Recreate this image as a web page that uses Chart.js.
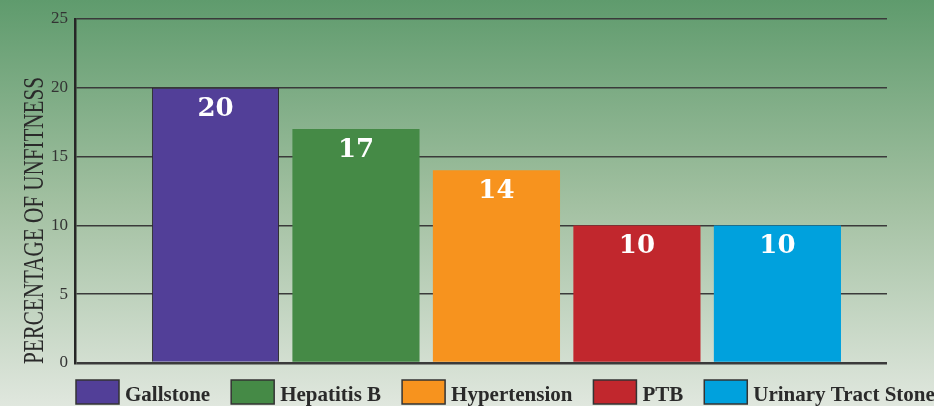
<!DOCTYPE html>
<html>
<head>
<meta charset="utf-8">
<script src="https://cdn.jsdelivr.net/npm/chart.js"></script>
<style>
  html, body { margin: 0; padding: 0; }
  #wrap { width: 934px; height: 406px; }
</style>
</head>
<body>
<div id="wrap"><canvas id="chart" width="934" height="406"></canvas></div>
<script>
// chart data
const categories = ['Gallstone', 'Hepatitis B', 'Hypertension', 'PTB', 'Urinary Tract Stone'];
const unfitness = [20, 17, 14, 10, 10];
const barColors = ['#523f98', '#458a46', '#f7931e', '#c1272d', '#00a1dd'];
const yTicks = [0, 5, 10, 15, 20, 25];
const yTitle = 'PERCENTAGE OF UNFITNESS';

// background gradient behind everything
const bgPlugin = {
  id: 'bg',
  beforeDraw(chart) {
    const ctx = chart.ctx;
    const g = ctx.createLinearGradient(0, 0, 0, chart.height);
    g.addColorStop(0, '#5f9b6d');
    g.addColorStop(0.5, '#a2c0a1');
    g.addColorStop(1, '#e0e7de');
    ctx.save();
    ctx.fillStyle = g;
    ctx.fillRect(0, 0, chart.width, chart.height);
    ctx.restore();
  }
};

// white value labels inside bar tops, axis title, legend
const extrasPlugin = {
  id: 'extras',
  afterDatasetsDraw(chart) {
    const ctx = chart.ctx;
    const meta = chart.getDatasetMeta(0);
    ctx.save();
    ctx.fillStyle = '#ffffff';
    ctx.font = 'bold 26px "DejaVu Serif"';
    ctx.textAlign = 'center';
    ctx.textBaseline = 'alphabetic';
    meta.data.forEach((bar, i) => {
      ctx.fillText(String(unfitness[i]), bar.x, bar.y + 28);
    });
    ctx.restore();
  },
  afterDraw(chart) {
    const ctx = chart.ctx;
    const area = chart.chartArea;
    // rotated y title, condensed serif
    ctx.save();
    ctx.translate(43, area.bottom + 1);
    ctx.rotate(-Math.PI / 2);
    ctx.font = '30px "Liberation Serif"';
    const w = ctx.measureText(yTitle).width;
    ctx.scale(287 / w, 1);
    ctx.fillStyle = '#2a2a2a';
    ctx.textAlign = 'left';
    ctx.textBaseline = 'alphabetic';
    ctx.fillText(yTitle, 0, 0);
    ctx.restore();

    // legend row
    ctx.save();
    ctx.font = 'bold 21px "Liberation Serif"';
    ctx.textBaseline = 'alphabetic';
    let x = 76;
    const boxTop = 380;
    categories.forEach((c, i) => {
      ctx.fillStyle = barColors[i];
      ctx.fillRect(x, boxTop, 43, 24);
      ctx.strokeStyle = '#333';
      ctx.lineWidth = 1.5;
      ctx.strokeRect(x, boxTop, 43, 24);
      x += 43 + 6;
      ctx.fillStyle = '#2a2a2a';
      ctx.fillText(c, x, 400.5);
      x += ctx.measureText(c).width + 21;
    });
    ctx.restore();
  }
};

const ctx = document.getElementById('chart').getContext('2d');
new Chart(ctx, {
  type: 'bar',
  data: {
    datasets: [{
      label: 'Percentage of unfitness',
      data: unfitness.map((v, i) => ({ x: i, y: v })),
      backgroundColor: barColors,
      borderColor: '#2a2a2a',
      borderWidth: [1, 0, 0, 0, 0],
      barPercentage: 0.905,
      categoryPercentage: 1
    }]
  },
  options: {
    responsive: false,
    animation: false,
    layout: { padding: { top: 19, right: 47, bottom: 43, left: 0 } },
    plugins: {
      legend: { display: false },
      tooltip: { enabled: false }
    },
    scales: {
      x: {
        type: 'linear',
        display: false,
        offset: false,
        min: -1,
        max: 4.78,
        // one tick per category so bar width follows the category spacing
        afterBuildTicks(scale) {
          scale.ticks = categories.map((c, i) => ({ value: i }));
        }
      },
      y: {
        min: 0,
        max: 25,
        afterBuildTicks(scale) {
          scale.ticks = yTicks.map(v => ({ value: v }));
        },
        afterFit(scale) { scale.width = 75; },
        border: { display: true, color: '#262626', width: 2.5 },
        grid: {
          drawTicks: false,
          color: '#3a3a3a',
          lineWidth: ctx => ctx.tick && ctx.tick.value === 0 ? 2.5 : 1.5
        },
        ticks: {
          padding: 7,
          color: '#333333',
          font: { family: 'Liberation Serif', size: 17 }
        }
      }
    }
  },
  plugins: [bgPlugin, extrasPlugin]
});
</script>
</body>
</html>
